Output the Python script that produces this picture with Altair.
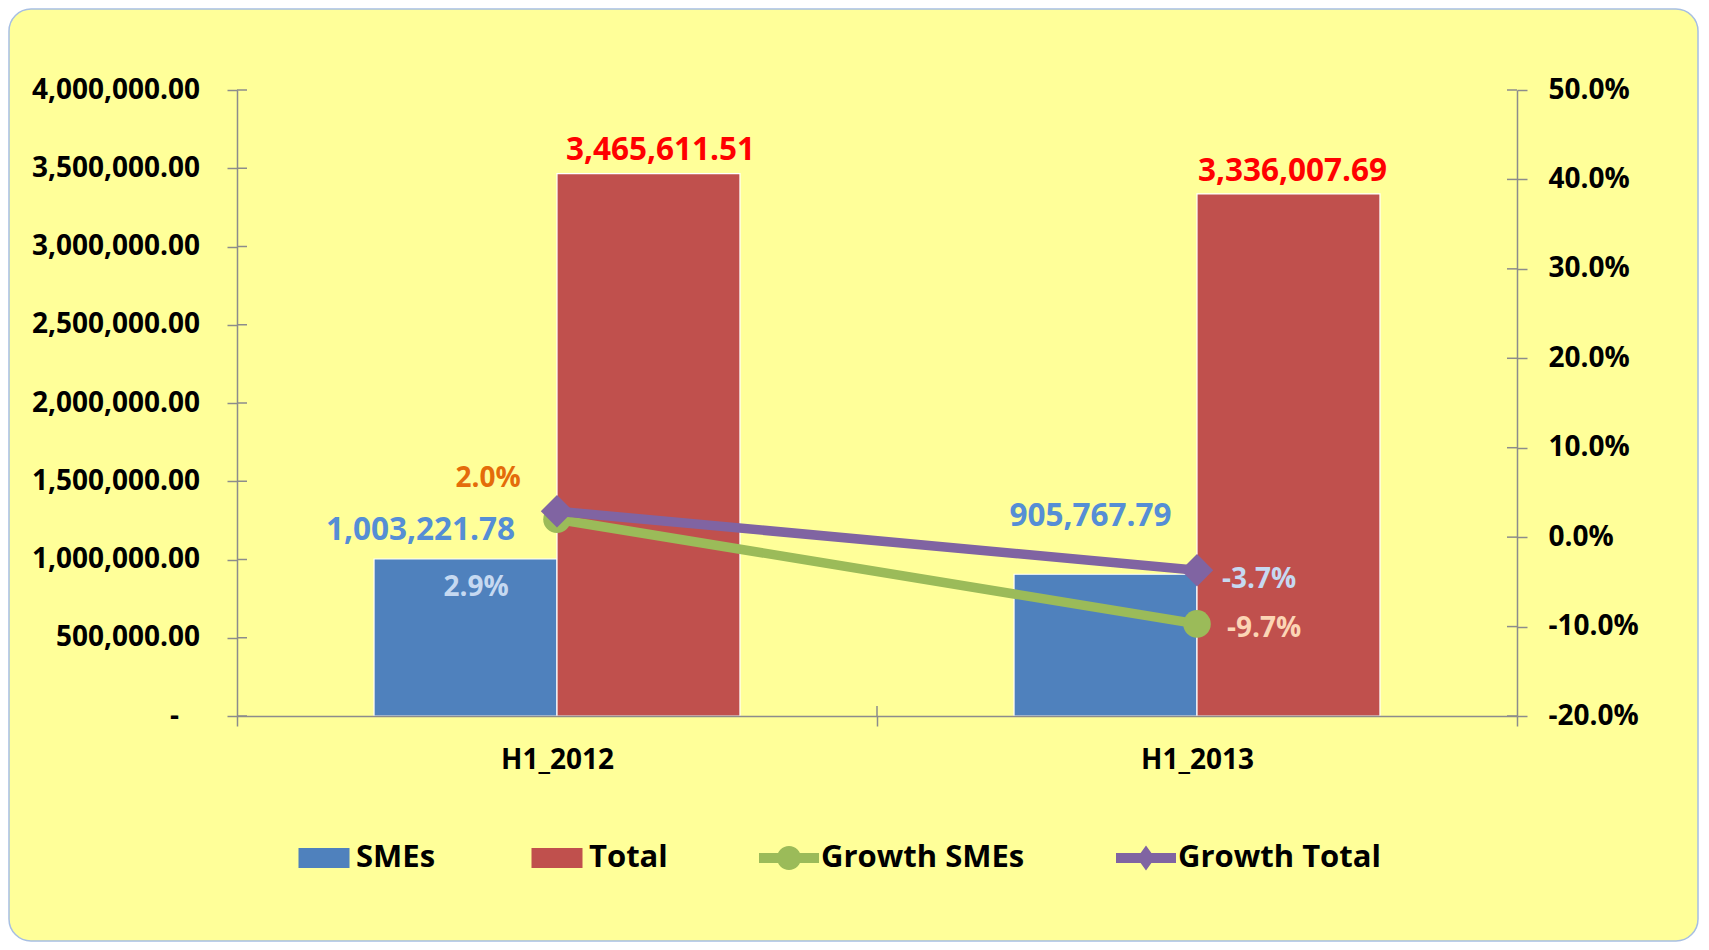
import altair as alt
import pandas as pd

# ---------------- data ----------------
categories = ["H1_2012", "H1_2013"]
smes_values = [1003221.78, 905767.79]
total_values = [3465611.51, 3336007.69]
growth_smes = [0.020, -0.097]
growth_total = [0.029, -0.037]

series_names = ["SMEs", "Total", "Growth SMEs", "Growth Total"]
series_colors = ["#4F81BD", "#C0504D", "#9BBB59", "#8064A2"]
left_ticks = [0, 500000, 1000000, 1500000, 2000000, 2500000, 3000000, 3500000, 4000000]
right_ticks = [-0.2, -0.1, 0.0, 0.1, 0.2, 0.3, 0.4, 0.5]

# legend symbol paths
RECT = "M-0.85,-0.33H0.85V0.33H-0.85Z"
LINE_CIRCLE = "M-1,-0.17H1V0.17H-1Z M0.4,0A0.4,0.4 0 1,1 -0.4,0A0.4,0.4 0 1,1 0.4,0Z"
LINE_DIAMOND = "M-1,-0.17H1V0.17H-1Z M-0.3,0L0,-0.42L0.3,0L0,0.42Z"

W, H = 1280, 626
PAD = {"left": 229, "top": 82, "right": 184, "bottom": 226}
FONT = "Open Sans"
GRAY = "#8C8C8C"
PANEL = "#FFFF99"

bars_df = pd.DataFrame({
    "cat": categories + categories,
    "series": ["SMEs"] * 2 + ["Total"] * 2,
    "value": smes_values + total_values,
})
bars_df["label"] = [f"{v:,.2f}" for v in bars_df["value"]]

growth_df = pd.DataFrame({
    "cat": categories + categories,
    "series": ["Growth SMEs"] * 2 + ["Growth Total"] * 2,
    "value": growth_smes + growth_total,
})
growth_df["label"] = [f"{v:.1%}" for v in growth_df["value"]]

color_scale = alt.Scale(domain=series_names, range=series_colors)
shape_scale = alt.Scale(domain=series_names, range=[RECT, RECT, LINE_CIRCLE, LINE_DIAMOND])

x_scale = alt.Scale(paddingInner=0, paddingOuter=0)
x_axis = alt.Axis(title=None, labelAngle=0, tickBand="extent", labelPadding=20, zindex=1)


def x_enc(**kw):
    return alt.X("cat:N", sort=categories, scale=x_scale, axis=x_axis, **kw)


xoff_enc = alt.XOffset("series:N", sort=["SMEs", "Total"],
                       scale=alt.Scale(paddingInner=0, paddingOuter=0.749))

left_scale = alt.Scale(domain=[0, 4000000], nice=False, zero=True)
left_axis = alt.Axis(
    title=None, orient="left", values=left_ticks, labelPadding=27.5, zindex=1,
    labelExpr="datum.value == 0 ? '-\u2800' : format(datum.value, ',.2f')",
)
right_scale = alt.Scale(domain=[-0.2, 0.5], nice=False, zero=False)
right_axis = alt.Axis(
    title=None, orient="right", values=right_ticks, labelPadding=21, zindex=1,
    labelExpr="replace(format(datum.value, '.1%'), '\u2212', '-')",
)


def y_left(field):
    return alt.Y(f"{field}:Q", scale=left_scale, axis=left_axis)


def y_right(field):
    return alt.Y(f"{field}:Q", scale=right_scale, axis=right_axis)


color_enc = alt.Color("series:N", scale=color_scale, title=None)

# ---------------- rounded panel behind everything ----------------
panel = alt.Chart(pd.DataFrame({"p": [0]})).mark_rect(
    fill=PANEL, stroke="#A7BFE3", strokeWidth=1.5, cornerRadius=22
).encode(
    x=alt.value(-PAD["left"] + 1), x2=alt.value(W + PAD["right"] - 3),
    y=alt.value(-PAD["top"] + 1), y2=alt.value(H + PAD["bottom"] - 1),
)

# ---------------- left (bars) ----------------
bars = alt.Chart(bars_df).mark_bar(stroke="white", strokeWidth=1.2).encode(
    x=x_enc(), xOffset=xoff_enc, y=y_left("value"), color=color_enc
)

left_inner_ticks = alt.Chart(pd.DataFrame({"v": left_ticks})).mark_rule(
    color=GRAY, strokeWidth=1.5
).encode(y=y_left("v"), x=alt.value(0), x2=alt.value(10))

x_inner_tick = alt.Chart(pd.DataFrame({"cat": categories[1:]})).mark_rule(
    color=GRAY, strokeWidth=1.5
).encode(x=x_enc(bandPosition=0), y=alt.value(H - 10), y2=alt.value(H))


def bar_label(cat, series, dx, dy, color):
    return alt.Chart(bars_df).transform_filter(
        (alt.datum.cat == cat) & (alt.datum.series == series)
    ).mark_text(
        dx=dx, dy=dy, align="center", baseline="alphabetic",
        font=FONT, fontWeight="bold", fontSize=31.5, color=color,
    ).encode(x=x_enc(), xOffset=xoff_enc, y=y_left("value"), text="label:N")


BLUE_LBL = "#558ED5"
RED_LBL = "#FF0000"
left_layer = alt.layer(
    panel,
    bars,
    left_inner_ticks,
    x_inner_tick,
    bar_label("H1_2012", "SMEs", -45, -19, BLUE_LBL),
    bar_label("H1_2013", "SMEs", -15, -48, BLUE_LBL),
    bar_label("H1_2012", "Total", 12, -14, RED_LBL),
    bar_label("H1_2013", "Total", 4, -13, RED_LBL),
)

# ---------------- right (growth lines) ----------------
def growth(series):
    return alt.Chart(growth_df).transform_filter(alt.datum.series == series)


green_line = growth("Growth SMEs").mark_line(strokeWidth=9.5, strokeCap="round").encode(
    x=x_enc(), y=y_right("value"), color=color_enc)
green_pts = growth("Growth SMEs").mark_point(shape="circle", filled=True, size=760, opacity=1).encode(
    x=x_enc(), y=y_right("value"), color=color_enc)
purple_line = growth("Growth Total").mark_line(strokeWidth=9.5, strokeCap="round").encode(
    x=x_enc(), y=y_right("value"), color=color_enc)
purple_pts = growth("Growth Total").mark_point(shape="diamond", filled=True, size=1050, opacity=1).encode(
    x=x_enc(), y=y_right("value"), color=color_enc)

legend_carrier = alt.Chart(growth_df).mark_point(filled=True, opacity=0, size=1).encode(
    x=x_enc(), y=y_right("value"), color=color_enc,
    shape=alt.Shape("series:N", scale=shape_scale, title=None),
)

right_inner_ticks = alt.Chart(pd.DataFrame({"v": right_ticks})).mark_rule(
    color=GRAY, strokeWidth=1.5
).encode(y=y_right("v"), x=alt.value(W - 10), x2=alt.value(W))


def pct_label(cat, series, dx, dy, color, align):
    return growth(series).transform_filter(alt.datum.cat == cat).mark_text(
        dx=dx, dy=dy, align=align, baseline="alphabetic",
        font=FONT, fontWeight="bold", fontSize=28, color=color,
    ).encode(x=x_enc(), y=y_right("value"), text="label:N")


right_layer = alt.layer(
    green_line, green_pts, purple_line, purple_pts, legend_carrier, right_inner_ticks,
    pct_label("H1_2012", "Growth SMEs", -69, -32, "#E46C0A", "center"),
    pct_label("H1_2012", "Growth Total", -81, 85, "#C6D9F1", "center"),
    pct_label("H1_2013", "Growth Total", 25, 18, "#C6D9F1", "left"),
    pct_label("H1_2013", "Growth SMEs", 30, 13, "#FCD5B5", "left"),
)

chart = alt.layer(left_layer, right_layer).resolve_scale(y="independent").properties(
    width=W, height=H,
    padding=PAD,
    autosize=alt.AutoSizeParams(type="none"),
    background="white",
).configure_view(stroke=None).configure_axis(
    grid=False,
    domainColor=GRAY, domainWidth=1.5,
    tickColor=GRAY, tickWidth=1.5, tickSize=10,
    labelFont=FONT, labelFontWeight="bold", labelFontSize=28, labelColor="black",
).configure_legend(
    orient="none", legendX=57, legendY=738, direction="horizontal",
    labelFont=FONT, labelFontSize=31, labelFontWeight="bold", labelColor="black",
    symbolSize=3600, labelOffset=2, columnPadding=91, labelLimit=600,
    symbolStrokeWidth=0, symbolOpacity=1, padding=0,
)

chart.save("out.html", embed_options={"renderer": "svg", "actions": False})
